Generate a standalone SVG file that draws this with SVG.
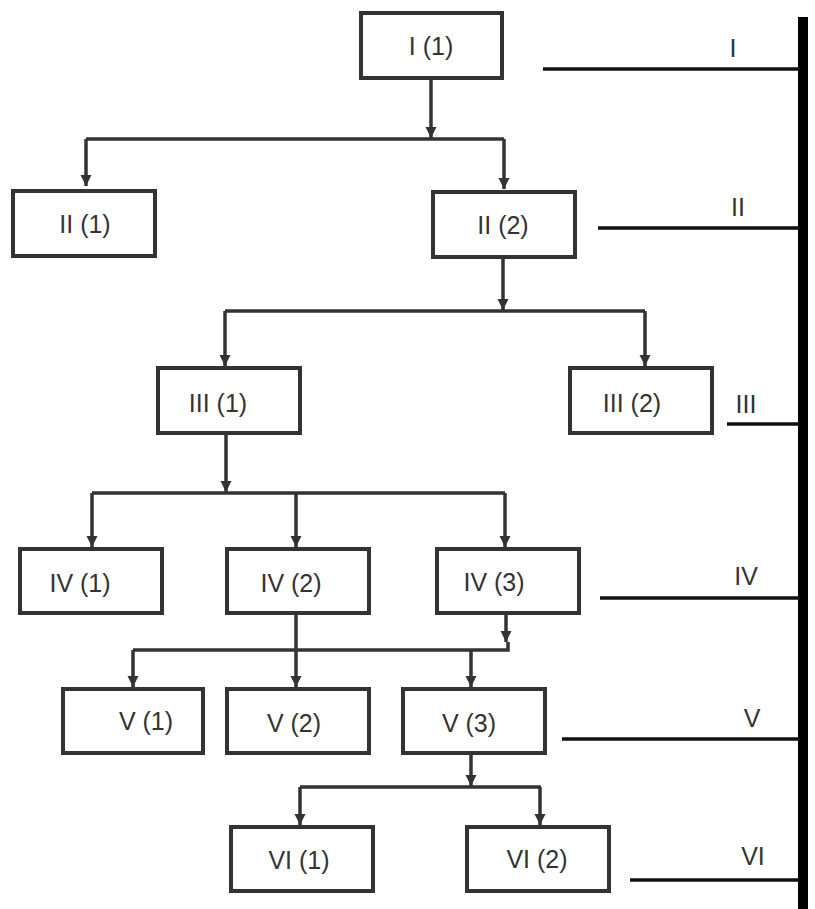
<svg xmlns="http://www.w3.org/2000/svg" width="815" height="909" viewBox="0 0 815 909">
<style>
.box{fill:#fff;stroke:#333;stroke-width:4}
.t{font-family:"Liberation Sans",Arial,sans-serif;font-size:25px;fill:#333;text-anchor:middle;dominant-baseline:central}
.c{fill:none;stroke:#333;stroke-width:3.5}
.lvl{stroke:#111;stroke-width:3.5}
</style>
<defs>
<marker id="a" viewBox="0 0 10 10" refX="10" refY="5" markerWidth="3.2" markerHeight="3.2" orient="auto" markerUnits="strokeWidth">
<path d="M0,0 L10,5 L0,10 z" fill="#333"/>
</marker>
</defs>
<rect width="815" height="909" fill="#fff"/>
<g id="connectors">
<path class="c" d="M431,79 V138" marker-end="url(#a)"/>
<path class="c" d="M86,139 H504"/>
<path class="c" d="M86,139 V186" marker-end="url(#a)"/>
<path class="c" d="M504,139 V189" marker-end="url(#a)"/>
<path class="c" d="M503,257 V310" marker-end="url(#a)"/>
<path class="c" d="M225,311 H645"/>
<path class="c" d="M225,311 V366" marker-end="url(#a)"/>
<path class="c" d="M645,311 V366" marker-end="url(#a)"/>
<path class="c" d="M226,433 V492" marker-end="url(#a)"/>
<path class="c" d="M92,493 H505"/>
<path class="c" d="M92,493 V547" marker-end="url(#a)"/>
<path class="c" d="M296,493 V547" marker-end="url(#a)"/>
<path class="c" d="M505,493 V547" marker-end="url(#a)"/>
<path class="c" d="M296,613 V687" marker-end="url(#a)"/>
<path class="c" d="M506,613 V642" marker-end="url(#a)"/>
<path class="c" d="M133,650 H508 V642"/>
<path class="c" d="M133,650 V687" marker-end="url(#a)"/>
<path class="c" d="M471,650 V687" marker-end="url(#a)"/>
<path class="c" d="M471,753 V786" marker-end="url(#a)"/>
<path class="c" d="M300,787 H541"/>
<path class="c" d="M300,787 V825" marker-end="url(#a)"/>
<path class="c" d="M540,787 V825" marker-end="url(#a)"/>
</g>
<g id="levels">
<rect x="798" y="17" width="10" height="892" fill="#000"/>
<line class="lvl" x1="543" y1="69" x2="800" y2="69"/>
<line class="lvl" x1="598" y1="228" x2="800" y2="228"/>
<line class="lvl" x1="727" y1="424" x2="800" y2="424"/>
<line class="lvl" x1="600" y1="598" x2="800" y2="598"/>
<line class="lvl" x1="562" y1="739" x2="800" y2="739"/>
<line class="lvl" x1="630" y1="880" x2="800" y2="880"/>
<text class="t" x="733" y="48">I</text>
<text class="t" x="738" y="207">II</text>
<text class="t" x="746" y="404">III</text>
<text class="t" x="746" y="576">IV</text>
<text class="t" x="752" y="718">V</text>
<text class="t" x="753" y="856">VI</text>
</g>
<g id="n-I1"><rect class="box" x="361" y="13" width="141" height="65"/><text class="t" x="431" y="46">I (1)</text></g>
<g id="n-II1"><rect class="box" x="13" y="191" width="142" height="65"/><text class="t" x="85" y="224">II (1)</text></g>
<g id="n-II2"><rect class="box" x="433" y="192" width="142" height="65"/><text class="t" x="503" y="225">II (2)</text></g>
<g id="n-III1"><rect class="box" x="158" y="368" width="142" height="65"/><text class="t" x="218" y="403">III (1)</text></g>
<g id="n-III2"><rect class="box" x="570" y="368" width="142" height="65"/><text class="t" x="632" y="403">III (2)</text></g>
<g id="n-IV1"><rect class="box" x="20" y="549" width="142" height="64"/><text class="t" x="80" y="583">IV (1)</text></g>
<g id="n-IV2"><rect class="box" x="227" y="549" width="142" height="64"/><text class="t" x="291" y="583">IV (2)</text></g>
<g id="n-IV3"><rect class="box" x="437" y="549" width="142" height="64"/><text class="t" x="494" y="582">IV (3)</text></g>
<g id="n-V1"><rect class="box" x="63" y="689" width="140" height="64"/><text class="t" x="146" y="721">V (1)</text></g>
<g id="n-V2"><rect class="box" x="227" y="689" width="142" height="64"/><text class="t" x="294" y="723">V (2)</text></g>
<g id="n-V3"><rect class="box" x="403" y="689" width="142" height="64"/><text class="t" x="469" y="723">V (3)</text></g>
<g id="n-VI1"><rect class="box" x="231" y="827" width="142" height="64"/><text class="t" x="299" y="860">VI (1)</text></g>
<g id="n-VI2"><rect class="box" x="467" y="827" width="142" height="64"/><text class="t" x="537" y="859">VI (2)</text></g>
</svg>
